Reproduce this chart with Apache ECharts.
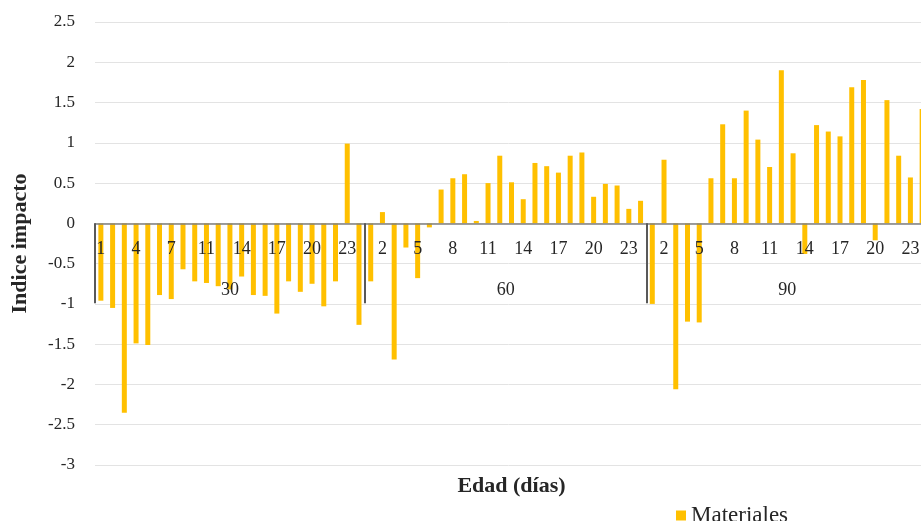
<!DOCTYPE html>
<html>
<head>
<meta charset="utf-8">
<script src="https://cdn.jsdelivr.net/npm/echarts@6/dist/echarts.min.js"></script>
<style>
  html, body { margin: 0; padding: 0; background: #fff; }
  #chart { width: 921px; height: 521px; }
</style>
</head>
<body>
<div id="chart"></div>
<script>
// edad (días) groups and the day numbers inside each group
const groups = ['30', '60', '90'];
const days30 = [1, 2, 3, 4, 5, 6, 7, 8, 9, 11, 12, 13, 14, 15, 16, 17, 18, 19, 20, 21, 22, 23, 24];
const days60 = [1, 2, 3, 4, 5, 6, 7, 8, 9, 10, 11, 12, 13, 14, 15, 16, 17, 18, 19, 20, 21, 22, 23, 24];
const days90 = [1, 2, 3, 4, 5, 6, 7, 8, 9, 10, 11, 12, 13, 14, 15, 16, 17, 18, 19, 20, 21, 22, 23, 24];

// Indice impacto - Materiales
const values30 = [-0.96, -1.05, -2.35, -1.49, -1.51, -0.89, -0.94, -0.57, -0.72, -0.74, -0.78, -0.82,
  -0.66, -0.89, -0.90, -1.12, -0.72, -0.85, -0.75, -1.03, -0.72, 0.99, -1.26];
const values60 = [-0.72, 0.14, -1.69, -0.30, -0.68, -0.05, 0.42, 0.56, 0.61, 0.03, 0.50, 0.84,
  0.51, 0.30, 0.75, 0.71, 0.63, 0.84, 0.88, 0.33, 0.49, 0.47, 0.18, 0.28];
const values90 = [-1.00, 0.79, -2.06, -1.22, -1.23, 0.56, 1.23, 0.56, 1.40, 1.04, 0.70, 1.90,
  0.87, -0.38, 1.22, 1.14, 1.08, 1.69, 1.78, -0.21, 1.53, 0.84, 0.57, 1.42];

const yTicks = { min: -3, max: 2.5, step: 0.5 };

const serif = "'Liberation Serif', 'Times New Roman', serif";
const textColor = '#262626';

const dayLists = [days30, days60, days90];
const valueLists = [values30, values60, values90];

const categories = [];
const values = [];
dayLists.forEach((days, g) => {
  days.forEach((d, i) => {
    categories.push(String(d));
    values.push(valueLists[g][i]);
  });
});

// second axis in half-category steps: group labels at the middle, separators at the edges
const groupAxis = new Array(categories.length * 2 + 1).fill('');
const separators = new Set();
let start = 0;
dayLists.forEach((days, g) => {
  separators.add(start * 2);
  groupAxis[start * 2 + days.length] = groups[g];
  start += days.length;
});
separators.add(start * 2);

const grid = { left: 95, right: -7, top: 22, bottom: 56 };
const gridHeight = 521 - grid.top - grid.bottom;
// category axes sit on the value 0 line, as in the original
const zeroOffset = -gridHeight * (0 - yTicks.min) / (yTicks.max - yTicks.min);

const chart = echarts.init(document.getElementById('chart'));

const option = {
  animation: false,
  grid: { ...grid, containLabel: false, outerBoundsMode: 'none' },
  legend: {
    data: ['Materiales'],
    left: 671,
    top: 499,
    icon: 'rect',
    itemWidth: 10,
    itemHeight: 10,
    itemGap: 4,
    textStyle: { fontFamily: serif, fontSize: 23, color: textColor },
  },
  xAxis: [
    {
      type: 'category',
      data: categories,
      position: 'bottom',
      offset: zeroOffset,
      z: 5,
      axisLine: { onZero: false, lineStyle: { color: '#808080', width: 1.5 } },
      axisTick: { show: false },
      axisLabel: { interval: 2, margin: 17, fontFamily: serif, fontSize: 18, color: textColor },
      splitLine: { show: false },
    },
    {
      type: 'category',
      data: groupAxis,
      boundaryGap: false,
      position: 'bottom',
      offset: zeroOffset,
      z: 5,
      name: 'Edad (días)',
      nameLocation: 'middle',
      nameGap: 252,
      nameTextStyle: { fontFamily: serif, fontSize: 22, fontWeight: 'bold', color: textColor },
      axisLine: { onZero: false, show: false },
      axisTick: {
        show: true,
        interval: (i) => separators.has(i),
        length: 80,
        lineStyle: { color: '#595959', width: 2 },
      },
      axisLabel: { interval: 0, margin: 58, fontFamily: serif, fontSize: 18, color: textColor },
      splitLine: { show: false },
    },
  ],
  yAxis: {
    type: 'value',
    min: yTicks.min,
    max: yTicks.max,
    interval: yTicks.step,
    name: 'Indice impacto',
    nameLocation: 'middle',
    nameGap: 64,
    nameTextStyle: { fontFamily: serif, fontSize: 22, fontWeight: 'bold', color: textColor },
    axisLine: { show: false },
    axisTick: { show: false },
    axisLabel: { margin: 20, fontFamily: serif, fontSize: 17, color: textColor },
    splitLine: { lineStyle: { color: '#e3e3e3', width: 1 } },
  },
  series: [
    {
      name: 'Materiales',
      type: 'bar',
      data: values,
      barWidth: 5,
      z: 2,
      itemStyle: { color: '#FFC000' },
    },
  ],
};

chart.setOption(option);
</script>
</body>
</html>
